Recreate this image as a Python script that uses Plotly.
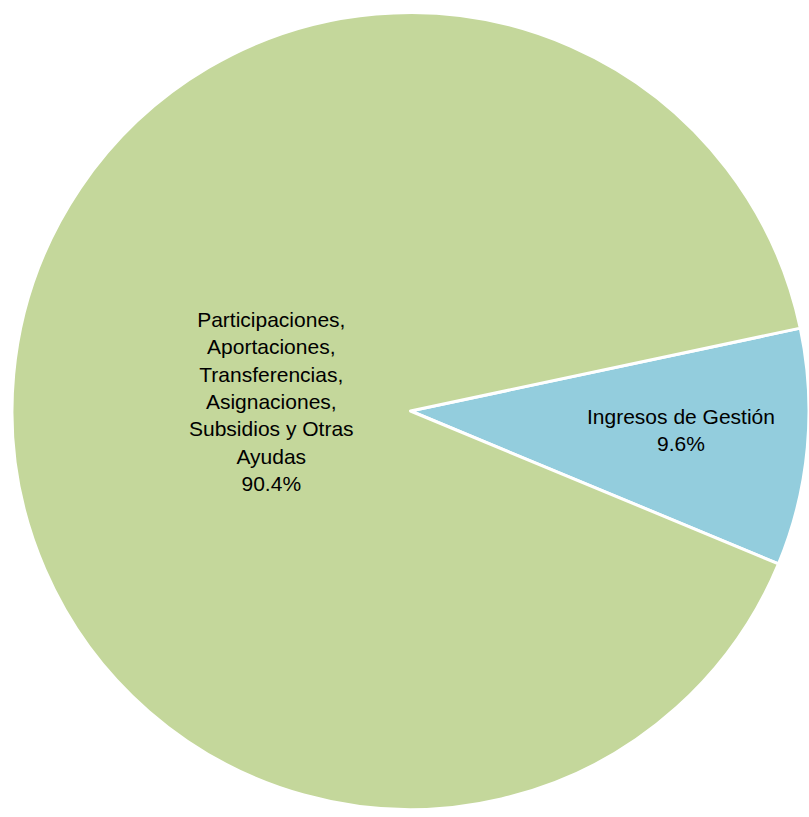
import plotly.graph_objects as go

# Revenue composition (percent of total)
categories = [
    "Ingresos de Gestión",
    "Participaciones, Aportaciones, Transferencias, Asignaciones, Subsidios y Otras Ayudas",
]
display_labels = [
    "Ingresos de Gestión",
    "Participaciones,<br>Aportaciones,<br>Transferencias,<br>Asignaciones,<br>Subsidios y Otras<br>Ayudas",
]
values = [9.6, 90.4]
colors = ["#93CDDD", "#C4D79B"]

W, H = 809, 817

fig = go.Figure(
    go.Pie(
        labels=categories,
        values=values,
        sort=False,
        direction="clockwise",
        rotation=78,
        marker=dict(colors=colors, line=dict(color="white", width=3)),
        textinfo="none",
        hoverinfo="label+percent",
        showlegend=False,
        domain=dict(x=[12 / W, 1.0], y=[3 / H, 1 - 8 / H]),
    )
)

# Slice labels with the share of each category
label_pos = [(681, 430), (271, 401)]
total = sum(values)
for lab, v, (px, py) in zip(display_labels, values, label_pos):
    fig.add_annotation(
        text=f"{lab}<br>{v / total * 100:.1f}%",
        x=px / W,
        y=1 - py / H,
        xref="paper",
        yref="paper",
        showarrow=False,
        xanchor="center",
        yanchor="middle",
        align="center",
        font=dict(family="Liberation Sans, Arial, sans-serif", size=21, color="black"),
    )

fig.update_layout(
    width=W,
    height=H,
    margin=dict(l=0, r=0, t=0, b=0),
    paper_bgcolor="white",
    plot_bgcolor="white",
)

fig.write_html("out.html")
